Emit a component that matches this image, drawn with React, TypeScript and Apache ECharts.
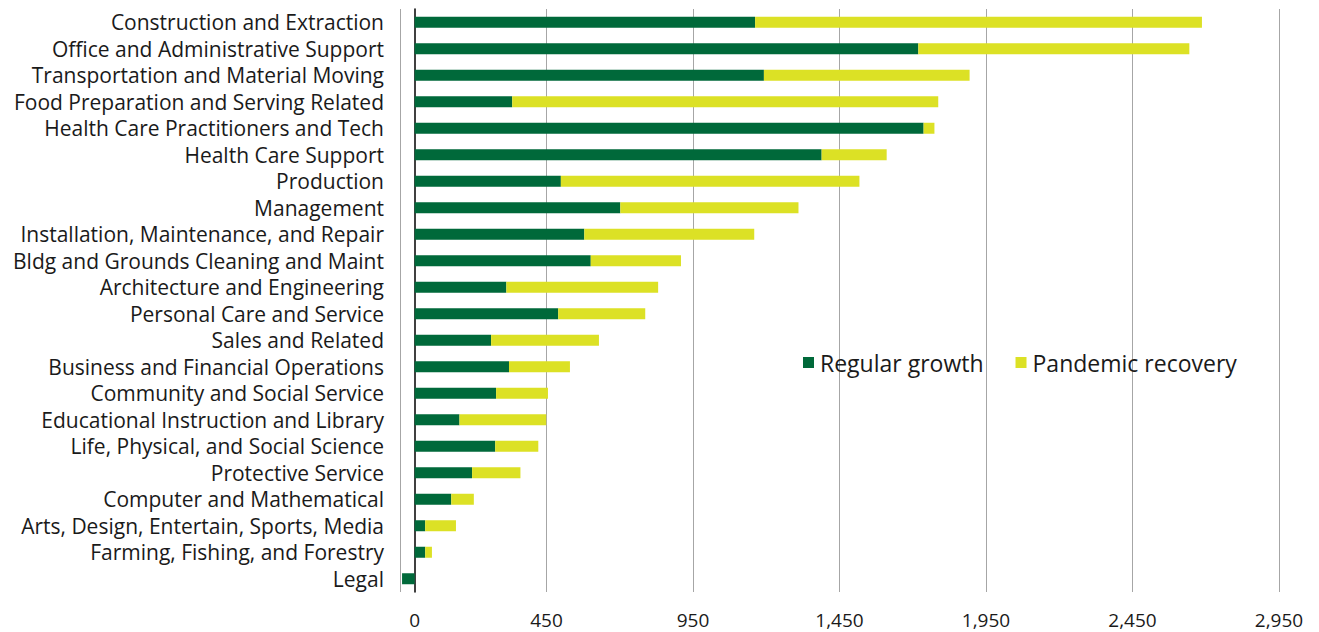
import React, { useEffect, useRef } from "react";
import * as echarts from "echarts";

const categories = [
  "Construction and Extraction",
  "Office and Administrative Support",
  "Transportation and Material Moving",
  "Food Preparation and Serving Related",
  "Health Care Practitioners and Tech",
  "Health Care Support",
  "Production",
  "Management",
  "Installation, Maintenance, and Repair",
  "Bldg and Grounds Cleaning and Maint",
  "Architecture and Engineering",
  "Personal Care and Service",
  "Sales and Related",
  "Business and Financial Operations",
  "Community and Social Service",
  "Educational Instruction and Library",
  "Life, Physical, and Social Science",
  "Protective Service",
  "Computer and Mathematical",
  "Arts, Design, Entertain, Sports, Media",
  "Farming, Fishing, and Forestry",
  "Legal",
];

const regularGrowth = [
  1162, 1719, 1192, 333, 1737, 1389, 499, 702, 579, 601, 313, 490, 261, 322,
  278, 153, 275, 196, 125, 36, 36, -43,
];

const pandemicRecovery = [
  1525, 925, 702, 1454, 37, 222, 1019, 608, 580, 308, 518, 297, 368, 208, 177,
  296, 147, 165, 77, 105, 23, 0,
];

const tickLabels = [0, 450, 950, 1450, 1950, 2450, 2950];

const FONT = "'Open Sans', 'Noto Sans', sans-serif";

export default function App() {
  const ref = useRef<HTMLDivElement>(null);

  useEffect(() => {
    if (!ref.current) return;
    const chart = echarts.init(ref.current, undefined, { renderer: "svg" });
    chart.setOption({
      animation: false,
      backgroundColor: "#ffffff",
      textStyle: { fontFamily: FONT },
      grid: { left: 400, right: 40, top: 9, bottom: 40, containLabel: false },
      legend: {
        left: 803,
        top: 351,
        padding: 0,
        itemWidth: 11,
        itemHeight: 11,
        itemGap: 32,
        icon: "rect",
        textStyle: {
          fontFamily: FONT,
          fontSize: 23,
          color: "#1a1a1a",
          padding: [0, 0, 0, 1],
        },
        data: ["Regular growth", "Pandemic recovery"],
      },
      xAxis: {
        type: "value",
        min: -50,
        max: 2950,
        interval: 500,
        axisLine: { show: false },
        axisTick: { show: false },
        splitLine: { show: true, lineStyle: { color: "#a6a6a6", width: 1 } },
        axisLabel: {
          customValues: tickLabels,
          fontFamily: FONT,
          fontSize: 19,
          lineHeight: 20,
          color: "#1a1a1a",
          margin: 18,
          formatter: (v: number) => v.toLocaleString("en-US"),
        },
      },
      yAxis: {
        type: "category",
        inverse: true,
        data: categories,
        axisTick: { show: false },
        axisLine: {
          show: true,
          onZero: true,
          lineStyle: { color: "#000000", width: 1.5 },
        },
        axisLabel: {
          interval: 0,
          fontFamily: FONT,
          fontSize: 21,
          lineHeight: 22,
          color: "#1a1a1a",
          margin: 16,
        },
      },
      series: [
        {
          name: "Regular growth",
          type: "bar",
          stack: "total",
          barWidth: 11,
          itemStyle: { color: "#00693a" },
          data: regularGrowth,
        },
        {
          name: "Pandemic recovery",
          type: "bar",
          stack: "total",
          barWidth: 11,
          itemStyle: { color: "#dce125" },
          data: pandemicRecovery,
        },
      ],
    });
    return () => chart.dispose();
  }, []);

  return (
    <div
      ref={ref}
      style={{ position: "fixed", left: 0, top: 0, width: 1319, height: 632 }}
    />
  );
}
